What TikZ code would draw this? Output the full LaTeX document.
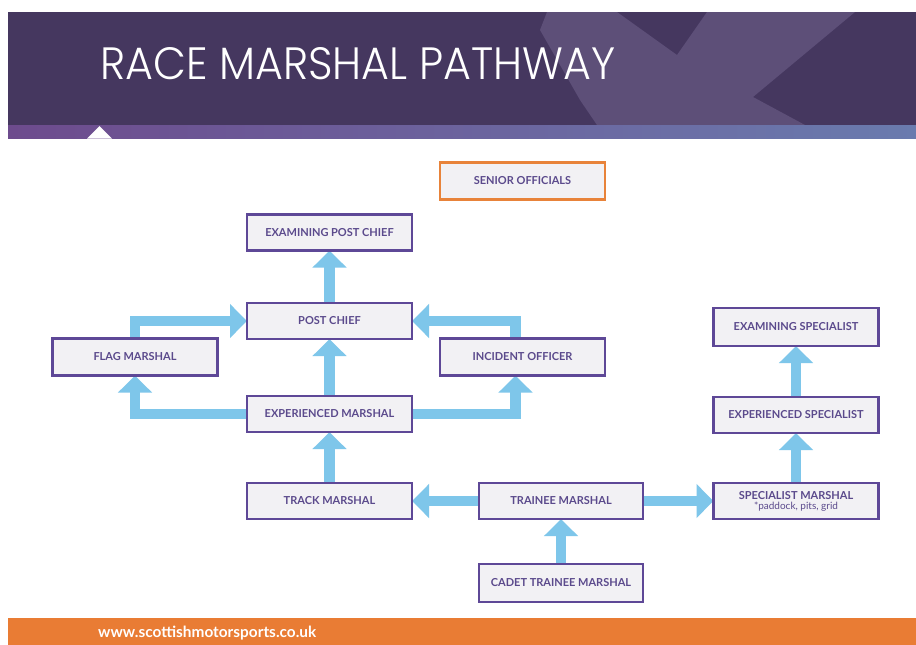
\documentclass[tikz,border=0pt]{standalone}
\usepackage{fontspec}
\usetikzlibrary{arrows.meta}
\IfFontExistsTF{Poppins Light}{\newfontfamily\titlefont{Poppins Light}}{\IfFontExistsTF{Lato Light}{\newfontfamily\titlefont{Lato Light}}{\newfontfamily\titlefont{Lato}}}
\newfontfamily\boxfont{Lato}
\definecolor{hdr}{HTML}{45375F}
\definecolor{hdrx}{HTML}{5D4F78}
\definecolor{stripL}{HTML}{6D4B8D}
\definecolor{stripR}{HTML}{6A7BAE}
\definecolor{boxfill}{HTML}{F2F1F4}
\definecolor{boxline}{HTML}{5E4897}
\definecolor{boxtext}{HTML}{5B4A8C}
\definecolor{orangeline}{HTML}{E8833A}
\definecolor{footer}{HTML}{E97C34}
\definecolor{arrowblue}{HTML}{7EC6EA}
\pgfdeclarelayer{bg}
\pgfdeclarelayer{arr}
\pgfsetlayers{bg,arr,main}
\begin{document}
\begin{tikzpicture}[x=1pt,y=-1pt,
  stage/.style={draw=boxline, line width=2.6pt, fill=boxfill, minimum width=165pt,
    minimum height=36pt, inner sep=0pt, outer sep=0pt,
    font=\boxfont\bfseries\fontsize{11}{11.5}\selectfont, text=boxtext, align=center},
  flow/.style={draw=arrowblue, line width=10.5pt, line join=miter,
    -{Triangle[width=33pt,length=17pt]}}]
\useasboundingbox (0,0) rectangle (916,645);
\begin{pgfonlayer}{bg}
\fill[white] (0,0) rectangle (916,645);
\end{pgfonlayer}
% header
\fill[hdr] (8,12) rectangle (916,125);
\fill[hdrx] (547,12) -- (617,12) -- (677,55) -- (707,12) -- (855,12) -- (753,97)
  -- (805,125) -- (597,125) -- (580,100) -- (540,30) -- cycle;
\shade[left color=stripL, right color=stripR] (8,125) rectangle (916,138);
\fill[white] (87,138.5) -- (99.5,126) -- (112,138.5) -- cycle;
\node[anchor=west, text=white, inner sep=0pt] (title) at (100,64)
  {\resizebox{515pt}{32pt}{\titlefont RACE MARSHAL PATHWAY}};
% footer
\fill[footer] (8,618) rectangle (916,645);
\node[anchor=west, text=white, inner sep=0pt] (url) at (98,633)
  {\resizebox{218pt}{!}{\boxfont\bfseries\fontsize{15}{16}\selectfont www.scottishmotorsports.co.uk}};
% stages
\node[stage, draw=orangeline, minimum height=37pt] (SO) at (522.5,181) {SENIOR OFFICIALS};
\node[stage] (EPC) at (329.5,232.5) {EXAMINING POST CHIEF};
\node[stage] (PC) at (329.5,321) {POST CHIEF};
\node[stage, minimum height=37pt] (FM) at (135,357) {FLAG MARSHAL};
\node[stage, minimum height=37pt] (IO) at (522.5,357) {INCIDENT OFFICER};
\node[stage] (EM) at (329.5,414) {EXPERIENCED MARSHAL};
\node[stage] (TM) at (329.5,501) {TRACK MARSHAL};
\node[stage, minimum width=164pt] (TRN) at (561,501) {TRAINEE MARSHAL};
\node[stage] (SPM) at (796,501) {SPECIALIST MARSHAL\\[-1.5pt]{\mdseries\fontsize{10}{11}\selectfont *paddock, pits, grid}};
\node[stage] (EXS) at (796,415) {EXPERIENCED SPECIALIST};
\node[stage, minimum height=38pt] (EXAMS) at (796,327) {EXAMINING SPECIALIST};
\node[stage, minimum width=164pt, minimum height=38pt] (CTM) at (561,583) {CADET TRAINEE MARSHAL};
% connectors
\begin{pgfonlayer}{arr}
\draw[flow] (PC.north) -- (EPC.south);
\draw[flow] (EM.north) -- (PC.south);
\draw[flow] (TM.north) -- (EM.south);
\draw[flow] (FM.north) |- (PC.west);
\draw[flow] (EM.west) -| (FM.south);
\draw[flow] ([xshift=-7pt]IO.north) |- (PC.east);
\draw[flow] (EM.east) -| ([xshift=-7pt]IO.south);
\draw[flow] (TRN.west) -- (TM.east);
\draw[flow] (TRN.east) -- (SPM.west);
\draw[flow] (CTM.north) -- (TRN.south);
\draw[flow] (SPM.north) -- (EXS.south);
\draw[flow] (EXS.north) -- (EXAMS.south);
\end{pgfonlayer}
\end{tikzpicture}
\end{document}
